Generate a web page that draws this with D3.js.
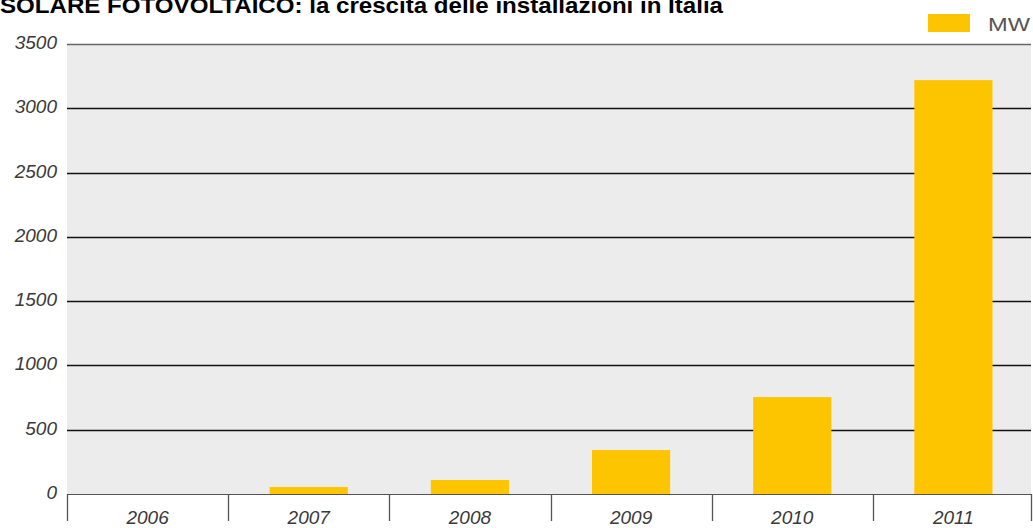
<!DOCTYPE html>
<html>
<head>
<meta charset="utf-8">
<script src="https://cdn.jsdelivr.net/npm/d3@7"></script>
<style>
  body { margin: 0; background: #fff; }
  svg { display: block; }
</style>
</head>
<body>
<svg id="chart" width="1033" height="528"></svg>
<script>
// Data
var years = ["2006", "2007", "2008", "2009", "2010", "2011"];
var mw = [0, 54, 109, 342, 754, 3219];
var yTicks = [0, 500, 1000, 1500, 2000, 2500, 3000, 3500];
var title = "SOLARE FOTOVOLTAICO: la crescita delle installazioni in Italia";
var legendLabel = "MW";

var svg = d3.select("#chart");

// Dimensions (plot area)
var plotLeft = 67, plotRight = 1031, plotTop = 44, plotBottom = 494;

var y = d3.scaleLinear().domain([0, 3500]).range([plotBottom, plotTop]);

// categories (ticks at boundaries) - last band runs slightly past the frame
var xCat = d3.scaleBand().domain(years).range([plotLeft, 1034]).padding(0);
// bars centred in each category
var xBar = d3.scaleBand().domain(years).range([plotLeft, 1034])
    .paddingInner(0.515).paddingOuter(0.2575);

// plot background
svg.append("rect")
    .attr("x", plotLeft).attr("y", plotTop)
    .attr("width", plotRight - plotLeft).attr("height", plotBottom - plotTop)
    .attr("fill", "#ebeceb");

// gridlines
svg.append("g").selectAll("line")
    .data(yTicks.filter(function(d) { return d > 0; }))
    .enter().append("line")
    .attr("x1", plotLeft).attr("x2", plotRight)
    .attr("y1", function(d) { return Math.round(y(d)) + 0.5; })
    .attr("y2", function(d) { return Math.round(y(d)) + 0.5; })
    .attr("stroke", function(d) { return d === 3500 ? "#666" : "#111"; })
    .attr("stroke-width", 1.3);

// y labels
svg.append("g").selectAll("text")
    .data(yTicks)
    .enter().append("text")
    .attr("x", 57)
    .attr("y", function(d) { return y(d) + 5; })
    .attr("text-anchor", "end")
    .attr("font-family", "Liberation Sans, Arial, sans-serif")
    .attr("font-style", "italic")
    .attr("font-size", 19)
    .attr("fill", "#3a3a3a")
    .text(function(d) { return d; });

// bars
svg.append("g").selectAll("rect")
    .data(years.map(function(d, i) { return { year: d, value: mw[i] }; }))
    .enter().append("rect")
    .attr("x", function(d) { return xBar(d.year); })
    .attr("y", function(d) { return y(d.value); })
    .attr("width", xBar.bandwidth())
    .attr("height", function(d) { return d.value > 0 ? plotBottom - y(d.value) + 1 : 0; })
    .attr("fill", "#fdc500");

// bottom axis line
svg.append("line")
    .attr("x1", plotLeft).attr("x2", plotRight)
    .attr("y1", plotBottom + 0.5).attr("y2", plotBottom + 0.5)
    .attr("stroke", "#555").attr("stroke-width", 1.2);

// category separators
var bounds = years.map(function(d) { return xCat(d); }).concat([plotRight - 0.5]);
svg.append("g").selectAll("line")
    .data(bounds)
    .enter().append("line")
    .attr("x1", function(d) { return Math.round(d) + 0.5; })
    .attr("x2", function(d) { return Math.round(d) + 0.5; })
    .attr("y1", plotBottom).attr("y2", 521)
    .attr("stroke", "#555").attr("stroke-width", 1.3);

// x labels
svg.append("g").selectAll("text")
    .data(years)
    .enter().append("text")
    .attr("x", function(d) { return xCat(d) + xCat.bandwidth() / 2; })
    .attr("y", 524)
    .attr("text-anchor", "middle")
    .attr("font-family", "Liberation Sans, Arial, sans-serif")
    .attr("font-style", "italic")
    .attr("font-size", 19)
    .attr("fill", "#3a3a3a")
    .text(function(d) { return d; });

// title
svg.append("text")
    .attr("x", 0).attr("y", 13)
    .attr("font-family", "Liberation Sans, Arial, sans-serif")
    .attr("font-weight", "bold")
    .attr("font-size", 22)
    .attr("textLength", 723)
    .attr("lengthAdjust", "spacingAndGlyphs")
    .attr("fill", "#000")
    .text(title);

// legend
svg.append("rect")
    .attr("x", 928).attr("y", 14)
    .attr("width", 42).attr("height", 18)
    .attr("fill", "#fdc500");
svg.append("text")
    .attr("x", 988).attr("y", 31)
    .attr("font-family", "Liberation Sans, Arial, sans-serif")
    .attr("font-size", 18)
    .attr("textLength", 42)
    .attr("lengthAdjust", "spacingAndGlyphs")
    .attr("fill", "#555")
    .text(legendLabel);
</script>
</body>
</html>
